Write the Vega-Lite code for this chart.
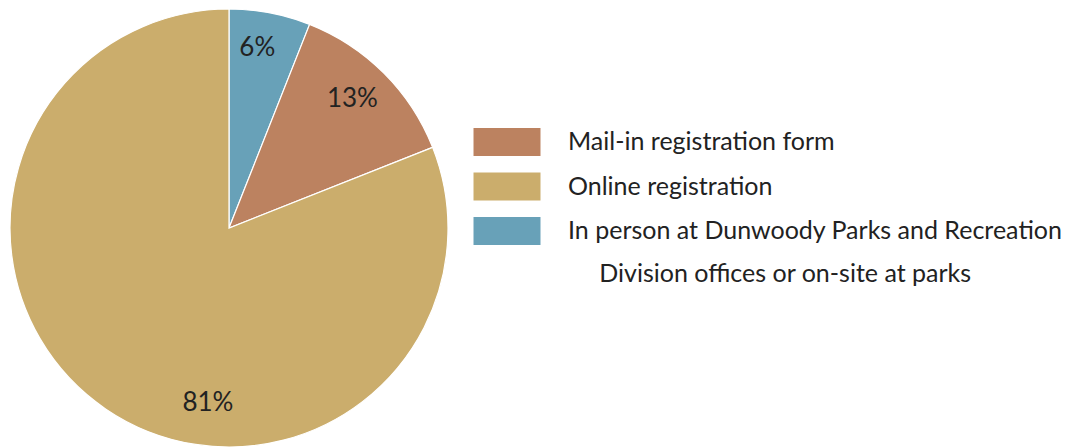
{
  "$schema": "https://vega.github.io/schema/vega-lite/v6.json",
  "width": 438,
  "height": 438,
  "padding": {"left": 7, "top": 6, "right": 0, "bottom": 0},
  "autosize": {"type": "pad"},
  "background": "white",
  "config": {"view": {"stroke": null}, "font": "Lato", "style": {"guide-label": {"lineHeight": 43}}},
  "data": {
    "values": [
      {"method": "In person at Dunwoody Parks and Recreation Division offices or on-site at parks", "pct": 6, "order": 1, "label": "6%"},
      {"method": "Mail-in registration form", "pct": 13, "order": 2, "label": "13%"},
      {"method": "Online registration", "pct": 81, "order": 3, "label": "81%"}
    ]
  },
  "encoding": {
    "theta": {"field": "pct", "type": "quantitative", "stack": true},
    "order": {"field": "order", "type": "quantitative"}
  },
  "layer": [
    {
      "mark": {"type": "arc", "stroke": "white", "strokeWidth": 1.2},
      "encoding": {
        "color": {
          "field": "method",
          "type": "nominal",
          "scale": {
            "domain": ["Mail-in registration form", "Online registration", "In person at Dunwoody Parks and Recreation Division offices or on-site at parks"],
            "range": ["#BC8260", "#CBAD6C", "#68A1B8"]
          },
          "legend": {
            "title": null,
            "orient": "none",
            "legendX": 480,
            "legendY": 116,
            "symbolType": "M-2,-0.84L2,-0.84L2,0.84L-2,0.84Z",
            "symbolSize": 1122,
            "symbolStrokeWidth": 0,
            "symbolOpacity": 1,
            "labelFont": "Lato",
            "labelFontSize": 25,
            "labelColor": "#222222",
            "labelLimit": 0,
            "labelOffset": 44,
            "rowPadding": 12.5,
            "labelExpr": "indexof(datum.label, 'Division') > 0 ? ['In person at Dunwoody Parks and Recreation', '\u200b\u2003\u2002Division offices or on-site at parks'] : datum.label",
            "encode": {"labels": {"update": {"lineHeight": {"value": 43}, "dy": {"value": -2}}}}
          }
        }
      }
    },
    {
      "transform": [{"filter": "datum.pct < 50"}],
      "mark": {"type": "text", "radius": 183, "font": "Lato", "fontSize": 26, "color": "#222222", "dx": -6, "dy": 0},
      "encoding": {"text": {"field": "label"}}
    },
    {
      "transform": [{"filter": "datum.pct > 50"}],
      "mark": {"type": "text", "radius": 176, "font": "Lato", "fontSize": 26, "color": "#222222", "dx": -120, "dy": 29},
      "encoding": {"text": {"field": "label"}}
    }
  ]
}
